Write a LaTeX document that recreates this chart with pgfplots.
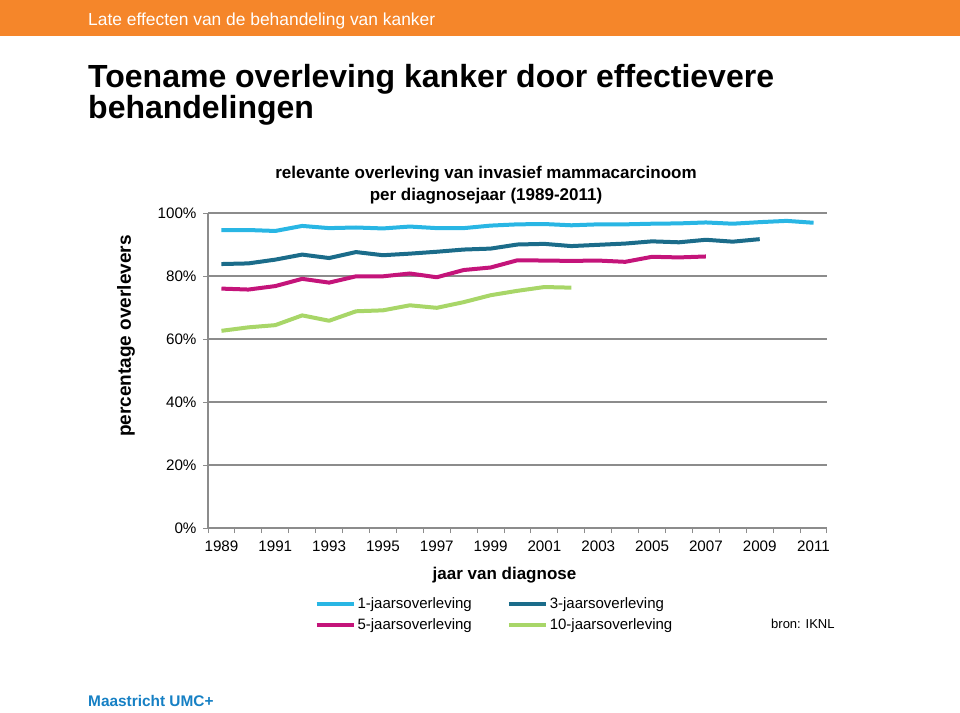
\documentclass[border=0pt]{standalone}
\usepackage{fontspec}
\setmainfont{Liberation Sans}
\usepackage{pgfplots}
\pgfplotsset{compat=1.18}
\definecolor{c1}{RGB}{41,182,228}
\definecolor{c3}{RGB}{27,108,138}
\definecolor{c5}{RGB}{196,20,122}
\definecolor{c10}{RGB}{168,214,104}
\definecolor{orbar}{RGB}{245,134,42}
\definecolor{gridgray}{RGB}{140,140,140}
\definecolor{logoblue}{RGB}{22,128,196}
\newcommand{\fs}[1]{\fontsize{#1}{#1}\selectfont}
\begin{document}
\begin{tikzpicture}[x=1pt,y=-1pt]
\path[use as bounding box] (0,0) rectangle (960,712);
\fill[orbar] (0,0) rectangle (960,36);
\node[anchor=base west, inner sep=0, text=white, font=\fs{17.4}] at (88,25) {Late effecten van de behandeling van kanker};
\node[anchor=base west, inner sep=0, font=\bfseries\fs{32}] at (88,87) {Toename overleving kanker door effectievere};
\node[anchor=base west, inner sep=0, font=\bfseries\fs{32}] at (88,118) {behandelingen};
\node[anchor=base, inner sep=0, font=\bfseries\fs{17}] at (486,178) {relevante overleving van invasief mammacarcinoom};
\node[anchor=base, inner sep=0, font=\bfseries\fs{17}] at (486,200) {per diagnosejaar (1989-2011)};
\node[rotate=90, inner sep=0, font=\bfseries\fs{19}] at (126,336) {percentage overlevers};
\node[anchor=base, inner sep=0, font=\bfseries\fs{17}] at (504.5,579) {jaar van diagnose};
\node[anchor=base west, inner sep=0, font=\fs{13}] at (771,628) {bron: IKNL};
\node[anchor=base west, inner sep=0, text=logoblue, font=\bfseries\fs{15.4}] at (88,706) {Maastricht UMC+};
\begin{axis}[
  at={(208pt,-528pt)}, anchor=south west,
  scale only axis, width=619pt, height=315pt,
  xmin=1988.5, xmax=2011.5, ymin=0, ymax=100,
  axis x line*=bottom, axis y line*=left,
  axis line style={gridgray, line width=1.2pt},
  xtick={1988.5,1989.5,...,2011.5}, xticklabels={},
  extra x ticks={1989,1991,...,2011},
  extra x tick labels={1989,1991,1993,1995,1997,1999,2001,2003,2005,2007,2009,2011},
  extra x tick style={major tick length=0pt, tick label style={yshift=-9pt}},
  tick align=outside, major tick length=5pt,
  tick style={gridgray, line width=1pt},
  ytick={0,20,...,100}, yticklabels={0\%,20\%,40\%,60\%,80\%,100\%},
  yticklabel style={xshift=-3pt},
  ymajorgrids, grid style={gridgray, line width=1.2pt},
  tick label style={font=\fs{15.2}},
  clip=false,
  legend columns=2,
  legend cell align=left,
  legend style={at={(0.167,-0.208)}, anchor=north west, draw=none, fill=none,
    font=\fs{15}, row sep=5pt,
    /tikz/every even column/.append style={column sep=33pt}},
  legend image code/.code={\draw[line width=4pt] (0pt,0pt) -- (37pt,0pt);},
]
\addplot[c1, line width=4pt, line join=round, no markers] coordinates {
(1989,94.6)(1990,94.6)(1991,94.3)(1992,95.9)(1993,95.2)(1994,95.4)(1995,95.1)(1996,95.7)(1997,95.2)(1998,95.2)(1999,96.0)(2000,96.4)(2001,96.5)(2002,96.1)(2003,96.4)(2004,96.4)(2005,96.6)(2006,96.7)(2007,97.0)(2008,96.6)(2009,97.1)(2010,97.5)(2011,96.9)};
\addlegendentry{1-jaarsoverleving}
\addplot[c3, line width=4pt, line join=round, no markers] coordinates {
(1989,83.8)(1990,84.0)(1991,85.2)(1992,86.8)(1993,85.7)(1994,87.6)(1995,86.6)(1996,87.1)(1997,87.7)(1998,88.4)(1999,88.7)(2000,90.0)(2001,90.2)(2002,89.5)(2003,89.9)(2004,90.3)(2005,91.0)(2006,90.7)(2007,91.5)(2008,90.9)(2009,91.7)};
\addlegendentry{3-jaarsoverleving}
\addplot[c5, line width=4pt, line join=round, no markers] coordinates {
(1989,76.0)(1990,75.7)(1991,76.8)(1992,79.1)(1993,77.9)(1994,79.9)(1995,79.9)(1996,80.8)(1997,79.6)(1998,81.9)(1999,82.7)(2000,85.0)(2001,84.9)(2002,84.8)(2003,84.9)(2004,84.5)(2005,86.1)(2006,85.9)(2007,86.2)};
\addlegendentry{5-jaarsoverleving}
\addplot[c10, line width=4pt, line join=round, no markers] coordinates {
(1989,62.6)(1990,63.7)(1991,64.4)(1992,67.5)(1993,65.8)(1994,68.8)(1995,69.1)(1996,70.7)(1997,69.9)(1998,71.7)(1999,73.9)(2000,75.3)(2001,76.5)(2002,76.3)};
\addlegendentry{10-jaarsoverleving}
\end{axis}
\end{tikzpicture}
\end{document}
